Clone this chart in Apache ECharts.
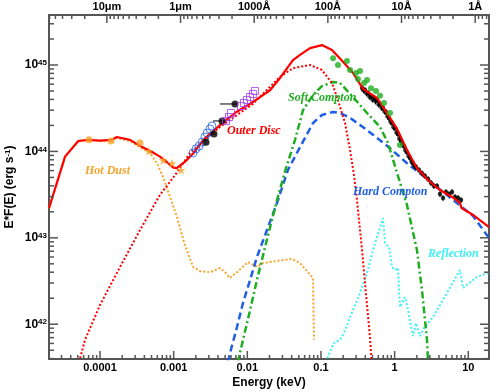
<!DOCTYPE html>
<html>
<head>
<meta charset="utf-8">
<script src="https://cdn.jsdelivr.net/npm/echarts@6/dist/echarts.min.js"></script>
<style>
html, body { margin: 0; padding: 0; background: #fff; }
#chart { width: 504px; height: 392px; }
</style>
</head>
<body>
<div id="chart"></div>
<script>
// energy in keV, luminosity E*F(E) in erg/s
const totalModel = [
  [2.03e-5, 2.2e43], [3.35e-5, 8.7e43], [5.07e-5, 1.32e44], [6.9e-5, 1.36e44], [1e-4, 1.33e44],
  [1.44e-4, 1.36e44], [1.69e-4, 1.47e44], [2.55e-4, 1.36e44], [3.68e-4, 1.13e44], [5.03e-4, 9.9e43],
  [6.5e-4, 8.7e43], [8.0e-4, 7.6e43], [9.9e-4, 6.5e43], [1.1e-3, 6.4e43], [1.43e-3, 7.6e43],
  [1.85e-3, 9.5e43], [2.53e-3, 1.36e44], [4.26e-3, 2.02e44], [7.2e-3, 2.88e44], [1.21e-2, 3.76e44],
  [2.03e-2, 5.1e44], [2.78e-2, 7.08e44], [4.17e-2, 1.14e45], [5.19e-2, 1.31e45], [7.1e-2, 1.57e45],
  [0.103, 1.70e45], [0.141, 1.49e45], [0.199, 1.09e45], [0.272, 8.1e44], [0.372, 5.3e44],
  [0.577, 4.15e44], [0.787, 2.78e44], [1.08, 1.82e44], [1.47, 1.04e44], [2.01, 6.4e43],
  [2.84, 4.67e43], [4.13, 3.57e43], [6.0, 2.97e43], [7.7, 2.53e43], [8.1, 2.21e43],
  [11.6, 1.84e43], [19.1, 1.33e43]
]
const outerDisc = [
  [5.03e-5, 3.3e41], [6.26e-5, 6.6e41], [1e-4, 1.67e42], [1.87e-4, 4.6e42], [3.49e-4, 1.23e43],
  [6.5e-4, 3.13e43], [1.04e-3, 5.3e43], [1.67e-3, 9.6e43], [4.26e-3, 1.92e44], [1.19e-2, 3.54e44],
  [2.78e-2, 7.3e44], [4.17e-2, 9.2e44], [7.1e-2, 1.0e45], [0.103, 8.75e44], [0.141, 6.2e44],
  [0.170, 3.94e44], [0.212, 2.13e44], [0.248, 1.04e44], [0.281, 5.3e43], [0.308, 2.74e43],
  [0.361, 7.2e42], [0.396, 3.0e42], [0.462, 7.1e41], [0.492, 3.3e41]
]
const hotDust = [
  [2.03e-5, 2.2e43], [3.35e-5, 8.6e43], [5.07e-5, 1.32e44], [6.9e-5, 1.36e44], [1e-4, 1.32e44],
  [1.44e-4, 1.36e44], [1.69e-4, 1.43e44], [2.55e-4, 1.32e44], [3.49e-4, 1.12e44], [4.77e-4, 9.6e43],
  [5.94e-4, 7.3e43], [7.17e-4, 5.06e43], [8.92e-4, 2.97e43], [1.11e-3, 1.74e43], [1.38e-3, 8.9e42],
  [1.83e-3, 4.6e42], [2.28e-3, 4.13e42], [3.11e-3, 4.0e42], [4.26e-3, 4.47e42], [4.98e-3, 4.0e42],
  [5.82e-3, 3.43e42], [7.24e-3, 4.0e42], [1.02e-2, 5.25e42], [1.35e-2, 4.6e42], [1.63e-2, 5.1e42],
  [2.53e-2, 5.4e42], [4.05e-2, 5.7e42], [5.19e-2, 5.1e42], [7.8e-2, 3.43e42], [8.04e-2, 6.6e41]
]
const softCompton = [
  [7.46e-3, 3.65e41], [7.93e-3, 4.64e41], [1.09e-2, 1.46e42], [1.35e-2, 3.25e42], [1.74e-2, 7.8e42],
  [2.16e-2, 1.61e43], [2.53e-2, 2.74e43], [3.35e-2, 6.4e43], [4.44e-2, 1.36e44], [5.7e-2, 3.0e44],
  [7.8e-2, 4.5e44], [0.103, 5.7e44], [0.146, 6.36e44], [0.181, 6.2e44], [0.272, 4.26e44],
  [0.422, 2.78e44], [0.633, 1.92e44], [0.813, 1.25e44], [1.08, 5.6e43], [1.47, 2.4e43],
  [2.01, 7.2e42], [2.35, 2.49e42], [2.75, 6.6e41], [2.84, 3.65e41]
]
const hardCompton = [
  [5.47e-3, 3.65e41], [5.82e-3, 4.64e41], [7.24e-3, 9.3e41], [8.73e-3, 1.76e42], [1.09e-2, 3.25e42],
  [1.35e-2, 6.0e42], [1.85e-2, 1.23e43], [2.61e-2, 2.74e43], [3.56e-2, 6.1e43], [5.19e-2, 1.12e44],
  [7.8e-2, 2.13e44], [0.103, 2.64e44], [0.146, 2.86e44], [0.181, 2.78e44], [0.248, 2.44e44],
  [0.339, 2.02e44], [0.493, 1.59e44], [0.865, 1.09e44], [1.47, 7.3e43], [2.21, 5.6e43],
  [3.76, 3.87e43], [7.0, 2.53e43], [11.6, 1.79e43], [19.1, 9.95e42]
]
const reflection = [
  [0.117, 3.65e41], [0.132, 4.77e41], [0.150, 6.06e41], [0.181, 6.6e41], [0.205, 7.9e41],
  [0.248, 1.21e42], [0.339, 2.3e42], [0.422, 3.92e42], [0.541, 8.7e42], [0.695, 1.69e43],
  [0.740, 8.7e42], [0.839, 7.8e42], [0.921, 4.6e42], [1.01, 4.24e42], [1.11, 4.47e42],
  [1.18, 1.58e42], [1.38, 2.06e42], [1.52, 1.46e42], [1.77, 7.3e41], [1.95, 1.03e42],
  [2.21, 7.3e41], [2.50, 9.0e41], [3.32, 1.21e42], [5.14, 2.3e42], [7.7, 4.24e42],
  [8.47, 2.62e42], [13.1, 3.52e42], [19.1, 4.0e42]
]
const dustCircles = [[7.1e-5, 1.36e44], [1.41e-4, 1.32e44], [3.49e-4, 1.25e44]]
const dustStars = [[4.6e-4, 1.01e44], [7.2e-4, 7.9e43], [9.5e-4, 7.3e43], [1.26e-3, 6.1e43]]
const blueOpen = [
  [1.83e-3, 9.6e43], [2.01e-3, 1.07e44], [2.21e-3, 1.15e44], [2.43e-3, 1.28e44],
  [2.66e-3, 1.47e44], [2.84e-3, 1.63e44], [3.11e-3, 1.82e44], [3.31e-3, 1.97e44]
]
// [E, L, E low, E high]
const uvBlack = [
  [2.75e-3, 1.28e44, 2.75e-3, 2.8e-3], [3.53e-3, 1.59e44, 2.92e-3, 3.7e-3],
  [4.53e-3, 2.25e44, 3.42e-3, 4.8e-3], [6.8e-3, 3.54e44, 4.26e-3, 7.5e-3]
]
const purpleSquares = [
  [5.14e-3, 2.25e44], [5.64e-3, 2.5e44], [6.0e-3, 2.78e44], [8.2e-3, 3.35e44], [9.0e-3, 3.63e44],
  [9.9e-3, 3.94e44], [1.09e-2, 4.26e44], [1.19e-2, 4.62e44], [1.27e-2, 5.0e44]
]
const greenDots = [
  [0.146, 1.2e45], [0.170, 1.0e45], [0.225, 1.11e45], [0.248, 8.75e44], [0.299, 8.1e44],
  [0.339, 8.5e44], [0.318, 6.9e44], [0.384, 6.2e44], [0.422, 6.7e44], [0.478, 5.4e44],
  [0.558, 5.0e44], [0.633, 4.4e44], [0.717, 3.63e44], [0.865, 2.78e44], [1.18, 1.19e44]
]
const xrayBlack = [
  [0.361, 5.42e44], [0.378, 5.1e44], [0.396, 5.14e44], [0.415, 4.7e44], [0.435, 4.74e44],
  [0.456, 4.3e44], [0.478, 4.38e44], [0.50, 4.0e44], [0.525, 4.15e44], [0.55, 3.8e44],
  [0.577, 3.94e44], [0.605, 3.5e44], [0.633, 3.54e44], [0.665, 3.2e44], [0.695, 3.18e44],
  [0.73, 2.9e44], [0.764, 2.86e44], [0.80, 2.55e44], [0.838, 2.44e44], [0.88, 2.2e44],
  [0.921, 2.13e44], [0.965, 1.9e44], [1.01, 1.87e44], [1.06, 1.65e44], [1.11, 1.59e44],
  [1.16, 1.4e44], [1.22, 1.32e44], [1.28, 1.2e44], [1.34, 1.15e44], [1.40, 1.03e44],
  [1.47, 9.8e43], [1.55, 8.8e43], [1.62, 8.4e43], [1.70, 7.6e43], [1.78, 7.3e43],
  [1.86, 6.8e43], [1.95, 6.6e43], [2.14, 6.1e43], [2.35, 5.6e43], [2.58, 5.2e43],
  [2.84, 4.8e43], [3.12, 4.3e43], [3.42, 3.98e43], [3.76, 3.98e43], [4.13, 3.21e43],
  [4.54, 2.89e43], [4.98, 3.39e43], [5.47, 3.21e43], [6.01, 3.39e43], [6.6, 2.97e43],
  [7.25, 2.89e43], [7.96, 2.74e43]
]

const xMin = 2.03e-5, xMax = 19.1
const yMin = 3.96e41, yMax = 3.79e45
const energyTicks = [1e-4, 1e-3, 1e-2, 0.1, 1, 10]
const energyLabels = ['0.0001', '0.001', '0.01', '0.1', '1', '10']
const waveTicks = [1e5, 1e4, 1e3, 100, 10, 1]   // Angstrom
const waveLabels = ['10μm', '1μm', '1000Å', '100Å', '10Å', '1Å']
const lumTicks = [1e42, 1e43, 1e44, 1e45]
const HC = 12.398   // keV * Angstrom

const RED = '#ff0000', ORANGE = '#f9a32b', GREEN = '#1fae1f', BLUE = '#1f5fe6', CYAN = '#3ff0f4'
const PURPLE = '#a33cf5', FRAME = '#555555'
const SANS = 'Liberation Sans'

function lg(v) { return Math.log10(v) }
function toLog(pts) { return pts.map(p => [lg(p[0]), lg(p[1])]) }

function minorLogs(lo, hi, fromExp, toExp, map) {
  var rv = []
  for (var n = fromExp; n <= toExp; n++) {
    for (var k = 2; k <= 9; k++) {
      var v = map(k * Math.pow(10, n))
      if (v > lo && v < hi) rv.push(lg(v))
    }
  }
  return rv
}

const xMajor = energyTicks.map(lg)
const xMinor = minorLogs(xMin, xMax, -5, 1, v => v)
const topMajor = waveTicks.map(w => lg(HC / w))
const topMinor = minorLogs(xMin, xMax, -1, 5, w => HC / w)
const yMajor = lumTicks.map(lg)
const yMinor = minorLogs(yMin, yMax, 41, 45, v => v)
const xMid = (lg(xMin) + lg(xMax)) / 2, yMid = (lg(yMin) + lg(yMax)) / 2

// side: 0 bottom, 1 top, 2 left, 3 right
function tickSeries(vals, side, len) {
  return {
    type: 'custom', z: 8, silent: true,
    data: vals.map(v => side < 2 ? [v, yMid] : [xMid, v]),
    renderItem: function (params, api) {
      var lo = api.coord([lg(xMin), lg(yMin)])
      var hi = api.coord([lg(xMax), lg(yMax)])
      var p = api.coord([api.value(0), api.value(1)])
      var shape
      if (side === 0) shape = {x1: p[0], y1: lo[1], x2: p[0], y2: lo[1] - len}
      else if (side === 1) shape = {x1: p[0], y1: hi[1], x2: p[0], y2: hi[1] + len}
      else if (side === 2) shape = {x1: lo[0], y1: p[1], x2: lo[0] + len, y2: p[1]}
      else shape = {x1: hi[0], y1: p[1], x2: hi[0] - len, y2: p[1]}
      return {type: 'line', shape: shape, style: {stroke: FRAME, lineWidth: 1.5}}
    }
  }
}

function findLabel(ticks, labels, v) {
  for (var i = 0; i < ticks.length; i++) {
    if (Math.abs(ticks[i] - v) < 1e-6) return labels[i]
  }
  return ''
}

function xAxisDef(position, ticks, labels) {
  return {
    type: 'value', position: position, min: lg(xMin), max: lg(xMax),
    splitLine: {show: false},
    axisLine: {show: true, onZero: false, lineStyle: {color: FRAME, width: 2}},
    axisTick: {show: false},
    axisLabel: {
      show: true, customValues: ticks, margin: 3,
      formatter: v => findLabel(ticks, labels, v),
      fontFamily: SANS, fontWeight: 'bold', fontSize: 11, color: '#000'
    }
  }
}

function yAxisDef(position, withLabels) {
  return {
    type: 'value', position: position, min: lg(yMin), max: lg(yMax),
    splitLine: {show: false},
    axisLine: {show: true, onZero: false, lineStyle: {color: FRAME, width: 2}},
    axisTick: {show: false},
    axisLabel: withLabels ? {
      show: true, customValues: yMajor, margin: 2,
      formatter: v => '{b|10}{s|' + Math.round(v) + '}',
      rich: {
        b: {fontFamily: SANS, fontWeight: 'bold', fontSize: 12, color: '#000',
          verticalAlign: 'bottom', lineHeight: 12},
        s: {fontFamily: SANS, fontWeight: 'bold', fontSize: 8, color: '#000',
          verticalAlign: 'top', lineHeight: 9, padding: [0, 0, 7, 0]}
      }
    } : {show: false}
  }
}

function lineSeries(data, color, width, dash, z) {
  return {
    type: 'line', data: toLog(data), symbol: 'none', clip: true, z: z || 3,
    lineStyle: {color: color, width: width, type: dash}
  }
}

function scatterSeries(data, symbol, size, style, z) {
  return {
    type: 'scatter', data: toLog(data), symbol: symbol, symbolSize: size, z: z || 4,
    itemStyle: style
  }
}

const STAR = 'path://M0,-10L2.4,-3.1L9.5,-3.1L3.8,1.2L5.9,8.1L0,4L-5.9,8.1L-3.8,1.2L-9.5,-3.1L-2.4,-3.1Z'

const chart = echarts.init(document.getElementById('chart'), null, {renderer: 'canvas'})

const labelFont = {fontFamily: 'Liberation Serif', fontStyle: 'italic', fontWeight: 'bold', fontSize: 12}
function note(text, x, y, color) {
  return {type: 'text', left: x, top: y, z: 10,
    style: Object.assign({text: text, fill: color}, labelFont)}
}

chart.setOption({
  animation: false,
  backgroundColor: '#fff',
  grid: {left: 49, right: 15, top: 15, bottom: 33, outerBoundsMode: 'none', containLabel: false},
  xAxis: [
    Object.assign(xAxisDef('bottom', xMajor, energyLabels), {
      name: 'Energy (keV)', nameLocation: 'middle', nameGap: 18, nameMoveOverlap: false,
      nameTextStyle: {fontFamily: SANS, fontWeight: 'bold', fontSize: 12, color: '#000'}
    }),
    xAxisDef('top', topMajor, waveLabels)
  ],
  yAxis: [
    Object.assign(yAxisDef('left', true), {
      name: 'E*F(E) (erg s{s|-1})', nameLocation: 'middle', nameGap: 33, nameRotate: 90,
      nameMoveOverlap: false,
      nameTextStyle: {
        fontFamily: SANS, fontWeight: 'bold', fontSize: 12, color: '#000',
        rich: {s: {fontFamily: SANS, fontWeight: 'bold', fontSize: 8, color: '#000',
          verticalAlign: 'top', lineHeight: 8, padding: [0, 0, 6, 0]}}
      }
    }),
    yAxisDef('right', false)
  ],
  series: [
    tickSeries(xMajor, 0, 8), tickSeries(xMinor, 0, 4),
    tickSeries(topMajor, 1, 8), tickSeries(topMinor, 1, 4),
    tickSeries(yMajor, 2, 9), tickSeries(yMinor, 2, 5),
    tickSeries(yMajor, 3, 9), tickSeries(yMinor, 3, 5),
    lineSeries(reflection, CYAN, 2, [2, 2]),
    lineSeries(hotDust, ORANGE, 2, [2, 2]),
    lineSeries(hardCompton, BLUE, 2.5, [7, 4]),
    lineSeries(softCompton, GREEN, 2.5, [7, 3, 2, 3]),
    lineSeries(outerDisc, RED, 2, [2, 2]),
    {
      type: 'custom', z: 4,
      data: xrayBlack.map(p => [lg(p[0]), lg(p[1] * 0.92), lg(p[1] * 1.08)]),
      encode: {x: 0, y: [1, 2]},
      renderItem: function (params, api) {
        var a = api.coord([api.value(0), api.value(1)])
        var b = api.coord([api.value(0), api.value(2)])
        return {type: 'line', shape: {x1: a[0], y1: a[1], x2: b[0], y2: b[1]},
          style: {stroke: '#000', lineWidth: 1}}
      }
    },
    {
      type: 'custom', z: 4,
      data: uvBlack.map(p => [lg(p[2]), lg(p[3]), lg(p[1])]),
      encode: {x: [0, 1], y: 2},
      renderItem: function (params, api) {
        var a = api.coord([api.value(0), api.value(2)])
        var b = api.coord([api.value(1), api.value(2)])
        return {type: 'line', shape: {x1: a[0], y1: a[1], x2: b[0], y2: b[1]},
          style: {stroke: '#000', lineWidth: 1}}
      }
    },
    scatterSeries(xrayBlack, 'circle', 4.5, {color: '#000'}),
    lineSeries(totalModel, RED, 2.2, 'solid', 5),
    scatterSeries(greenDots, 'circle', 6, {color: GREEN}, 6),
    scatterSeries(dustCircles, 'circle', 7, {color: ORANGE}, 6),
    scatterSeries(dustStars, STAR, 9, {color: ORANGE}, 6),
    scatterSeries(blueOpen, 'circle', 8, {color: 'transparent', borderColor: BLUE, borderWidth: 1}, 6),
    scatterSeries(uvBlack, 'circle', 7, {color: '#000'}, 6),
    scatterSeries(purpleSquares, 'rect', 7, {color: 'transparent', borderColor: PURPLE, borderWidth: 1}, 6)
  ],
  graphic: [
    note('Hot Dust', 85, 165, ORANGE),
    note('Outer Disc', 227, 125, RED),
    note('Soft Compton', 288, 92, GREEN),
    note('Hard Compton', 353, 186, BLUE),
    note('Reflection', 428, 248, CYAN)
  ]
})
</script>
</body>
</html>
